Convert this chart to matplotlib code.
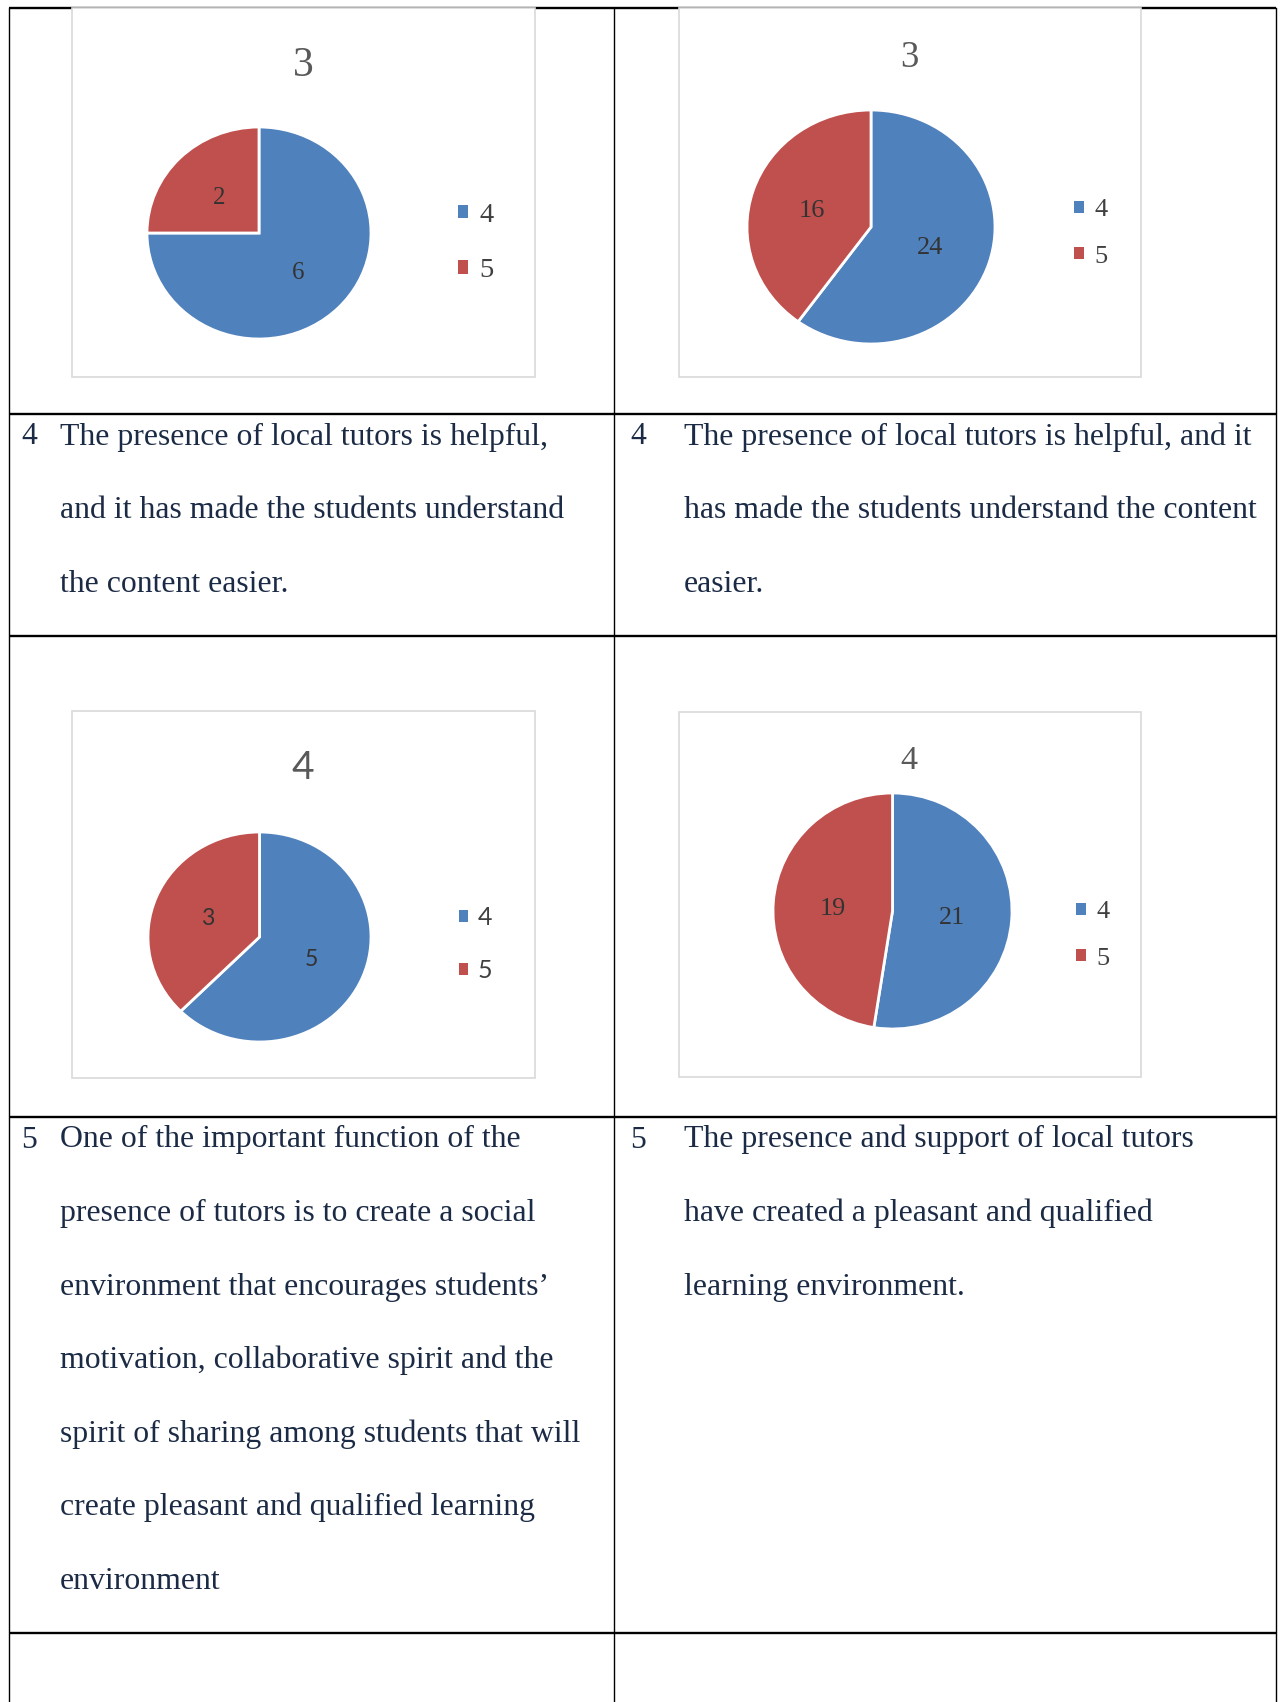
import matplotlib
matplotlib.use("Agg")
import matplotlib.pyplot as plt
from matplotlib.patches import Rectangle, Patch

# ---- data ----
chart_titles = ["3", "3", "4", "4"]
legend_labels = ["4", "5"]
counts_4 = [6, 24, 5, 21]   # answers "4" per chart
counts_5 = [2, 16, 3, 19]   # answers "5" per chart

row_numbers = ["4", "4", "5", "5"]
row_texts = [
    ["The presence of local tutors is helpful,",
     "and it has made the students understand",
     "the content easier."],
    ["The presence of local tutors is helpful, and it",
     "has made the students understand the content",
     "easier."],
    ["One of the important function of the",
     "presence of tutors is to create a social",
     "environment that encourages students\u2019",
     "motivation, collaborative spirit and the",
     "spirit of sharing among students that will",
     "create pleasant and qualified learning",
     "environment"],
    ["The presence and support of local tutors",
     "have created a pleasant and qualified",
     "learning environment."],
]

# ---- layout (pixels of the 1283x1702 canvas) ----
W, H = 1283, 1702
BLUE, RED = "#4f81bd", "#c0504d"
TEXT_COL = "#1c2b45"
SERIF = "Liberation Serif"

# chart box, pie bbox, title pos, legend anchor, font sizes, family
charts = [
    dict(box=(71.5, 8, 535, 377), pie=(147, 127, 371, 339), title=(303, 66, 30),
         leg=(458, 243, 20.5, 1.07), lab=18, fam=SERIF),
    dict(box=(678.5, 8, 1141, 377), pie=(747, 110, 995, 344), title=(909, 58, 26.5),
         leg=(1074, 233.5, 19, 0.91), lab=19, fam=SERIF),
    dict(box=(71.5, 711, 535, 1077.5), pie=(148, 832, 371, 1042), title=(303, 768, 28),
         leg=(459, 944, 18, 1.22), lab=16.7, fam="Lato"),
    dict(box=(678.5, 711.5, 1141, 1077), pie=(773, 793, 1012, 1029), title=(909, 761, 24.7),
         leg=(1076, 935.5, 19, 0.91), lab=18.8, fam=SERIF),
]

h_lines = [7.5, 413.5, 636, 1116.5, 1633]
v_lines = [8.5, 614, 1275.5]
text_rows = [(413.5, 21, 60, 0), (413.5, 630, 684, 1), (1116.5, 21, 60, 2), (1116.5, 630, 684, 3)]
LINE_STEP = 73.6
BODY_FS = 22.9

fig = plt.figure(figsize=(W / 100, H / 100), dpi=100)
ax = fig.add_axes([0, 0, 1, 1])
ax.set_xlim(0, W)
ax.set_ylim(H, 0)
ax.axis("off")

# table grid
for y in h_lines:
    ax.plot([v_lines[0], v_lines[-1]], [y, y], color="black", lw=1.7, zorder=1,
            solid_capstyle="butt")
for x in v_lines:
    ax.plot([x, x], [h_lines[0], H], color="black", lw=1.0, zorder=1)

# text cells
for top, xn, xt, idx in text_rows:
    base = top + 31
    ax.text(xn, base, row_numbers[idx], va="baseline", ha="left", family=SERIF,
            fontsize=BODY_FS, color=TEXT_COL)
    for i, line in enumerate(row_texts[idx]):
        ax.text(xt, base + i * LINE_STEP, line, va="baseline", ha="left",
                family=SERIF, fontsize=BODY_FS, color=TEXT_COL)


def fig_rect(x0, y0, x1, y1):
    return [x0 / W, 1 - y1 / H, (x1 - x0) / W, (y1 - y0) / H]


for k, c in enumerate(charts):
    bx0, by0, bx1, by1 = c["box"]
    ax.add_patch(Rectangle((bx0, by0), bx1 - bx0, by1 - by0, facecolor="white",
                           edgecolor="#d9d9d9", lw=1.2, zorder=3))
    tx, ty, tfs = c["title"]
    ax.text(tx, ty, chart_titles[k], ha="center", va="center", family=c["fam"],
            fontsize=tfs, color="#595959", zorder=4)

    vals = [counts_4[k], counts_5[k]]
    total = sum(vals)
    pax = fig.add_axes(fig_rect(*c["pie"]))
    pax.pie(vals, colors=[BLUE, RED], startangle=90, counterclock=False,
            radius=1, autopct=lambda p, t=total: f"{p * t / 100:.0f}", pctdistance=0.5,
            wedgeprops=dict(edgecolor="white", linewidth=2),
            textprops=dict(family=c["fam"], fontsize=c["lab"], color="#333333",
                           verticalalignment="center_baseline"))
    pax.set_aspect("auto")
    pax.set_xlim(-1, 1)
    pax.set_ylim(-1, 1)
    pax.axis("off")

    lx, ly, lfs, lsp = c["leg"]
    handles = [Patch(facecolor=BLUE, edgecolor="none"), Patch(facecolor=RED, edgecolor="none")]
    pax.legend(handles, legend_labels, loc="center left", bbox_to_anchor=(lx, ly),
               bbox_transform=ax.transData, frameon=False, borderpad=0, borderaxespad=0,
               handlelength=0.36, handleheight=0.36, handletextpad=0.4,
               labelspacing=lsp, prop=dict(family=c["fam"], size=lfs),
               labelcolor="#404040")

fig.savefig("out.png", dpi=100)
